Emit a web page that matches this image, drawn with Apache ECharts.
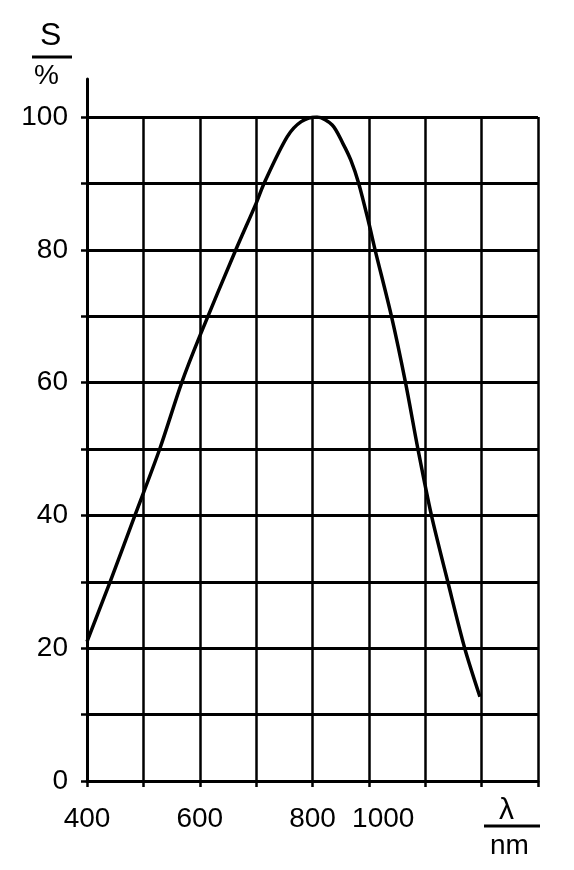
<!DOCTYPE html>
<html>
<head>
<meta charset="utf-8">
<script src="https://cdn.jsdelivr.net/npm/echarts@6/dist/echarts.min.js"></script>
<style>html,body{margin:0;padding:0;background:#fff;}#c{width:574px;height:870px;}</style>
</head>
<body>
<div id="c"></div>
<script>
// wavelength (nm)
var wavelengths = [400, 441, 485, 529, 568, 600, 664, 700, 714, 755, 780, 808, 835, 854, 868, 882, 900, 911, 940, 965, 987, 1011, 1040, 1070, 1097];
// relative sensitivity (%)
var sensitivity = [21, 30, 40, 50, 60, 67, 80, 87, 90, 97, 99.3, 100, 98.8, 96, 93.5, 90, 84, 80, 70, 60, 50, 40, 30, 20, 12.7];
var xTickLabels = [400, 600, 800, 1000];
var yTickLabels = [0, 20, 40, 60, 80, 100];

var chart = echarts.init(document.getElementById('c'));
var FONT = 'Liberation Sans';
var BLACK = '#000';
var points = wavelengths.map(function (w, i) { return [w, sensitivity[i]]; });

chart.setOption({
  backgroundColor: '#fff',
  animation: false,
  grid: [
    { left: 87, right: 36, top: 117, bottom: 89 },
    { left: 87, right: 486, top: 79, bottom: 89 }
  ],
  xAxis: [{
    type: 'value', gridIndex: 0, min: 400, max: 1200, interval: 100,
    axisLine: { show: true, onZero: false, lineStyle: { color: BLACK, width: 3 } },
    axisTick: { show: true, length: 6, lineStyle: { color: BLACK, width: 2.5 } },
    splitLine: { show: true, lineStyle: { color: BLACK, width: 2.5 } },
    axisLabel: {
      margin: 24, color: BLACK, fontFamily: FONT, fontSize: 28,
      formatter: function (v) {
        if (xTickLabels.indexOf(v) < 0) return '';
        if (v === 1000) return '{s|' + v + '}';
        return String(v);
      },
      rich: { s: { fontFamily: FONT, fontSize: 28, color: BLACK, padding: [0, 84, 0, 0] } }
    }
  }, {
    type: 'value', gridIndex: 1, show: false, min: 0, max: 1
  }],
  yAxis: [{
    type: 'value', gridIndex: 0, min: 0, max: 100, interval: 10,
    axisLine: { show: true, lineStyle: { color: BLACK, width: 3 } },
    axisTick: { show: true, length: 6, lineStyle: { color: BLACK, width: 2.5 } },
    splitLine: { show: true, lineStyle: { color: BLACK, width: 3 } },
    axisLabel: {
      margin: 19, color: BLACK, fontFamily: FONT, fontSize: 28,
      formatter: function (v) { return yTickLabels.indexOf(v) >= 0 ? String(v) : ''; }
    }
  }, {
    type: 'value', gridIndex: 1, min: 0, max: 1,
    axisLine: { show: true, lineStyle: { color: BLACK, width: 3 } },
    axisTick: { show: false }, axisLabel: { show: false }, splitLine: { show: false }
  }],
  series: [{
    type: 'line', xAxisIndex: 0, yAxisIndex: 0,
    data: points, smooth: 0.3, showSymbol: false, symbol: 'none',
    lineStyle: { color: BLACK, width: 3.5 }
  }],
  graphic: [
    { type: 'text', left: 40, top: 20, style: { text: 'S', fill: BLACK, font: '32px "Liberation Sans"' } },
    { type: 'line', shape: { x1: 32, y1: 57, x2: 72, y2: 57 }, style: { stroke: BLACK, lineWidth: 3 } },
    { type: 'text', left: 34, top: 62, style: { text: '%', fill: BLACK, font: '28px "Liberation Sans"' } },
    { type: 'text', left: 499, top: 796, style: { text: 'λ', fill: BLACK, font: '30px "Liberation Sans"' } },
    { type: 'line', shape: { x1: 484, y1: 826, x2: 540, y2: 826 }, style: { stroke: BLACK, lineWidth: 3 } },
    { type: 'text', left: 490, top: 832, style: { text: 'nm', fill: BLACK, font: '28px "Liberation Sans"' } }
  ]
});
</script>
</body>
</html>
